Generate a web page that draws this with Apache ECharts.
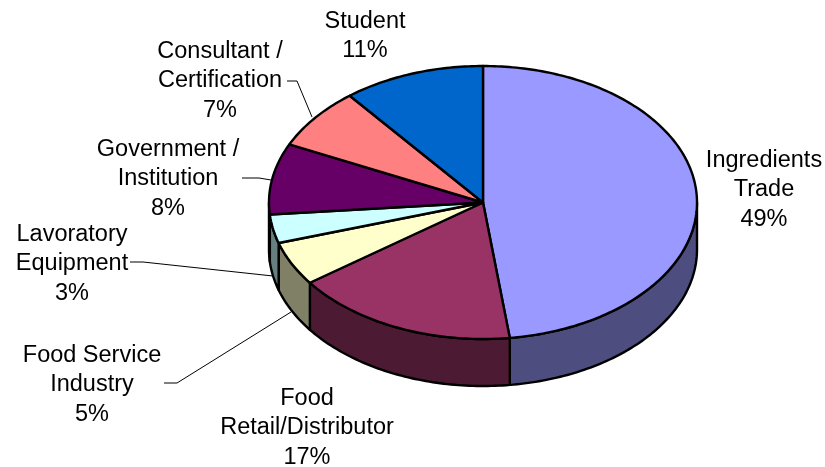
<!DOCTYPE html>
<html>
<head>
<meta charset="utf-8">
<style>html,body{margin:0;padding:0;background:#fff}#c{width:825px;height:467px}</style>
<script src="https://cdn.jsdelivr.net/npm/echarts@6/dist/echarts.min.js"></script>
</head>
<body>
<div id="c"></div>
<script>
// Data
const categories = ['Ingredients\nTrade', 'Food\nRetail/Distributor', 'Food Service\nIndustry', 'Lavoratory\nEquipment', 'Government /\nInstitution', 'Consultant /\nCertification', 'Student'];
const percentLabels = ['49%', '17%', '5%', '3%', '8%', '7%', '11%'];
const sliceShares = [48.0, 17.0, 5.2, 3.4, 8.4, 7.3, 10.7];

// Styles and layout
const topColors = ['#9999FF', '#993366', '#FFFFCC', '#CCFFFF', '#660066', '#FF8080', '#0066CC'];
const wallColors = ['#4D4D80', '#4D1A33', '#808066', '#668080', '#330033', '#804040', '#003366'];
const labelCenters = [[764, 190], [307, 428], [92, 385], [72, 264], [168, 179], [220, 81], [365, 36]];
const leaders = [null, null,
  [[164, 383], [177, 383], [291, 312]],
  [[130, 262], [143, 262], [273, 276]],
  [[242, 178], [259, 178], [271, 180]],
  [[287, 81], [297, 81], [312, 117]],
  null];
const pie = {cx: 483, cy: 202.5, rx: 214, ry: 136.5, depth: 47};

const total = sliceShares.reduce((a, b) => a + b, 0);
const edgePoint = (turn, dy) => {
  const a = turn * 2 * Math.PI;
  return [pie.cx + pie.rx * Math.sin(a), pie.cy - pie.ry * Math.cos(a) + (dy || 0)];
};
const arc = (t0, t1, dy) => {
  const n = Math.max(2, Math.ceil(Math.abs(t1 - t0) * 360));
  const pts = [];
  for (let i = 0; i <= n; i++) pts.push(edgePoint(t0 + (t1 - t0) * i / n, dy));
  return pts;
};

function renderItem(params, api) {
  const i = params.dataIndex;
  let before = 0;
  for (let k = 0; k < i; k++) before += sliceShares[k];
  const t0 = before / total;
  const t1 = t0 + api.value(0) / total;
  const children = [];
  const s0 = Math.max(t0, 0.25), s1 = Math.min(t1, 0.75);
  if (s1 > s0) {
    children.push({
      type: 'polygon',
      shape: {points: arc(s0, s1, 0).concat(arc(s1, s0, pie.depth))},
      style: {fill: wallColors[i], stroke: '#000', lineWidth: 2.4, lineJoin: 'round'}
    });
  }
  children.push({
    type: 'polygon',
    shape: {points: [[pie.cx, pie.cy]].concat(arc(t0, t1, 0))},
    style: {fill: topColors[i], stroke: '#000', lineWidth: 2.4, lineJoin: 'round'}
  });
  if (leaders[i]) {
    children.push({
      type: 'polyline',
      shape: {points: leaders[i]},
      style: {fill: null, stroke: '#000', lineWidth: 1}
    });
  }
  children.push({
    type: 'text',
    x: labelCenters[i][0],
    y: labelCenters[i][1],
    z2: 10,
    style: {
      text: categories[i] + '\n' + percentLabels[i],
      fill: '#000',
      font: '23.5px "Liberation Sans", Arial, sans-serif',
      lineHeight: 29.3,
      align: 'center',
      verticalAlign: 'middle'
    }
  });
  return {type: 'group', children};
}

const chart = echarts.init(document.getElementById('c'), null, {renderer: 'canvas'});
chart.setOption({
  animation: false,
  backgroundColor: '#fff',
  series: [{
    type: 'custom',
    coordinateSystem: 'none',
    renderItem,
    data: sliceShares.map((v, i) => ({name: categories[i], value: [v]}))
  }]
});
</script>
</body>
</html>
